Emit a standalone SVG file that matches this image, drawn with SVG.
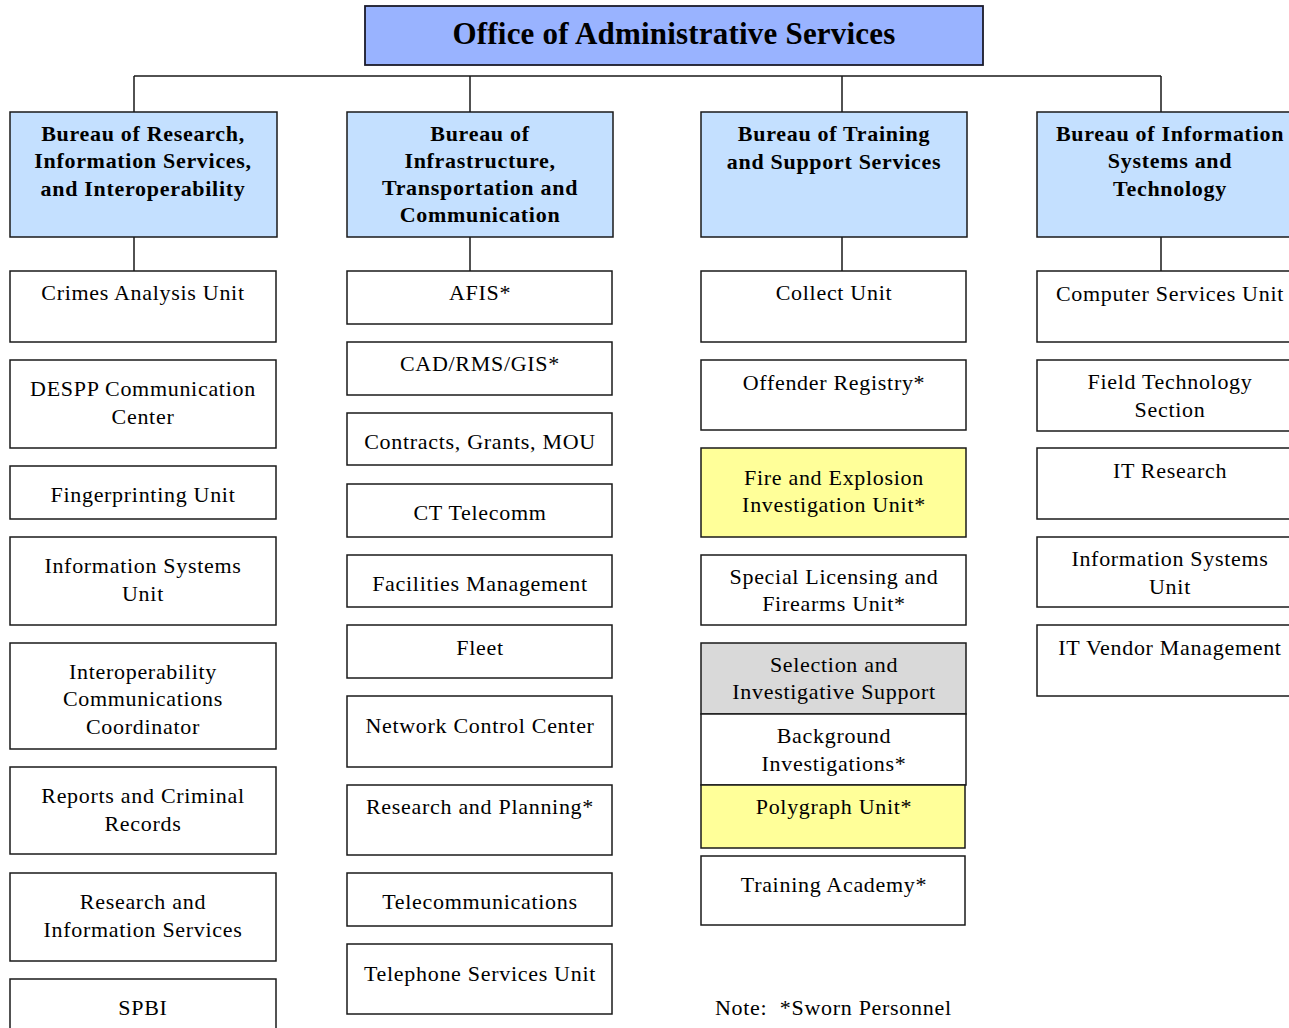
<svg xmlns="http://www.w3.org/2000/svg" width="1289" height="1028" viewBox="0 0 1289 1028">
<style>
.b{stroke:#1a1a1a;stroke-width:1.5;fill:#fff}
.top{fill:#99b3ff;stroke:#1a1a2a;stroke-width:1.8}
.bur{fill:#c4e0ff}
.yel{fill:#ffff99}
.gry{fill:#d9d9d9}
text{font-family:"Liberation Serif","Times New Roman",serif;font-size:22px;letter-spacing:0.7px;fill:#000;text-anchor:middle}
.bt{font-weight:bold}
.tt{font-weight:bold;font-size:31px;letter-spacing:0.2px}
.ln{stroke:#1a1a1a;stroke-width:1.5;fill:none}
</style>
<rect width="1289" height="1028" fill="#fff"/>
<g id="connectors">
<path class="ln" d="M134 76H1161M134 76V112M470 76V112M842 76V112M1161 76V112"/>
<path class="ln" d="M134 237V271M470 237V271M842 237V271M1161 237V271"/>
</g>
<g id="office"><rect class="top" x="365" y="6" width="618" height="59"/><text class="tt" x="674" y="44">Office of Administrative Services</text></g>
<g id="bureau1"><rect class="b bur" x="10" y="112" width="267" height="125"/><text class="bt" x="143" y="141">Bureau of Research,</text><text class="bt" x="143" y="168">Information Services,</text><text class="bt" x="143" y="196">and Interoperability</text></g>
<g id="bureau2"><rect class="b bur" x="347" y="112" width="266" height="125"/><text class="bt" x="480" y="141">Bureau of</text><text class="bt" x="480" y="168">Infrastructure,</text><text class="bt" x="480" y="195">Transportation and</text><text class="bt" x="480" y="222">Communication</text></g>
<g id="bureau3"><rect class="b bur" x="701" y="112" width="266" height="125"/><text class="bt" x="834" y="141">Bureau of Training</text><text class="bt" x="834" y="169">and Support Services</text></g>
<g id="bureau4"><rect class="b bur" x="1037" y="112" width="270" height="125"/><text class="bt" x="1170" y="141">Bureau of Information</text><text class="bt" x="1170" y="168">Systems and</text><text class="bt" x="1170" y="196">Technology</text></g>

<g id="c1-crimes"><rect class="b" x="10" y="271" width="266" height="71"/><text x="143" y="300">Crimes Analysis Unit</text></g>
<g id="c1-despp"><rect class="b" x="10" y="360" width="266" height="88"/><text x="143" y="396">DESPP Communication</text><text x="143" y="424">Center</text></g>
<g id="c1-finger"><rect class="b" x="10" y="466" width="266" height="53"/><text x="143" y="502">Fingerprinting Unit</text></g>
<g id="c1-info"><rect class="b" x="10" y="537" width="266" height="88"/><text x="143" y="573">Information Systems</text><text x="143" y="601">Unit</text></g>
<g id="c1-interop"><rect class="b" x="10" y="643" width="266" height="106"/><text x="143" y="679">Interoperability</text><text x="143" y="706">Communications</text><text x="143" y="734">Coordinator</text></g>
<g id="c1-reports"><rect class="b" x="10" y="767" width="266" height="87"/><text x="143" y="803">Reports and Criminal</text><text x="143" y="831">Records</text></g>
<g id="c1-research"><rect class="b" x="10" y="873" width="266" height="88"/><text x="143" y="909">Research and</text><text x="143" y="937">Information Services</text></g>
<g id="c1-spbi"><rect class="b" x="10" y="979" width="266" height="60"/><text x="143" y="1015">SPBI</text></g>

<g id="c2-afis"><rect class="b" x="347" y="271" width="265" height="53"/><text x="480" y="300">AFIS*</text></g>
<g id="c2-cad"><rect class="b" x="347" y="342" width="265" height="53"/><text x="480" y="371">CAD/RMS/GIS*</text></g>
<g id="c2-contracts"><rect class="b" x="347" y="413" width="265" height="52"/><text x="480" y="449">Contracts, Grants, MOU</text></g>
<g id="c2-ct"><rect class="b" x="347" y="484" width="265" height="53"/><text x="480" y="520">CT Telecomm</text></g>
<g id="c2-facilities"><rect class="b" x="347" y="555" width="265" height="52"/><text x="480" y="591">Facilities Management</text></g>
<g id="c2-fleet"><rect class="b" x="347" y="625" width="265" height="53"/><text x="480" y="655">Fleet</text></g>
<g id="c2-network"><rect class="b" x="347" y="696" width="265" height="71"/><text x="480" y="733">Network Control Center</text></g>
<g id="c2-research"><rect class="b" x="347" y="785" width="265" height="70"/><text x="480" y="814">Research and Planning*</text></g>
<g id="c2-telecom"><rect class="b" x="347" y="873" width="265" height="53"/><text x="480" y="909">Telecommunications</text></g>
<g id="c2-telephone"><rect class="b" x="347" y="944" width="265" height="70"/><text x="480" y="981">Telephone Services Unit</text></g>

<g id="c3-collect"><rect class="b" x="701" y="271" width="265" height="71"/><text x="834" y="300">Collect Unit</text></g>
<g id="c3-offender"><rect class="b" x="701" y="360" width="265" height="70"/><text x="834" y="390">Offender Registry*</text></g>
<g id="c3-fire"><rect class="b yel" x="701" y="448" width="265" height="89"/><text x="834" y="485">Fire and Explosion</text><text x="834" y="512">Investigation Unit*</text></g>
<g id="c3-special"><rect class="b" x="701" y="555" width="265" height="70"/><text x="834" y="584">Special Licensing and</text><text x="834" y="611">Firearms Unit*</text></g>
<g id="c3-selection"><rect class="b gry" x="701" y="643" width="265" height="71"/><text x="834" y="672">Selection and</text><text x="834" y="699">Investigative Support</text></g>
<g id="c3-background"><rect class="b" x="701" y="714" width="265" height="71"/><text x="834" y="743">Background</text><text x="834" y="771">Investigations*</text></g>
<g id="c3-polygraph"><rect class="b yel" x="701" y="785" width="264" height="63"/><text x="834" y="814">Polygraph Unit*</text></g>
<g id="c3-training"><rect class="b" x="701" y="856" width="264" height="69"/><text x="834" y="892">Training Academy*</text></g>

<g id="c4-computer"><rect class="b" x="1037" y="271" width="270" height="71"/><text x="1170" y="301">Computer Services Unit</text></g>
<g id="c4-field"><rect class="b" x="1037" y="360" width="270" height="71"/><text x="1170" y="389">Field Technology</text><text x="1170" y="417">Section</text></g>
<g id="c4-itresearch"><rect class="b" x="1037" y="448" width="270" height="71"/><text x="1170" y="478">IT Research</text></g>
<g id="c4-info"><rect class="b" x="1037" y="537" width="270" height="70"/><text x="1170" y="566">Information Systems</text><text x="1170" y="594">Unit</text></g>
<g id="c4-vendor"><rect class="b" x="1037" y="625" width="270" height="71"/><text x="1170" y="655">IT Vendor Management</text></g>

<g id="note"><text x="715" y="1015" style="text-anchor:start" xml:space="preserve">Note:  *Sworn Personnel</text></g>
</svg>
